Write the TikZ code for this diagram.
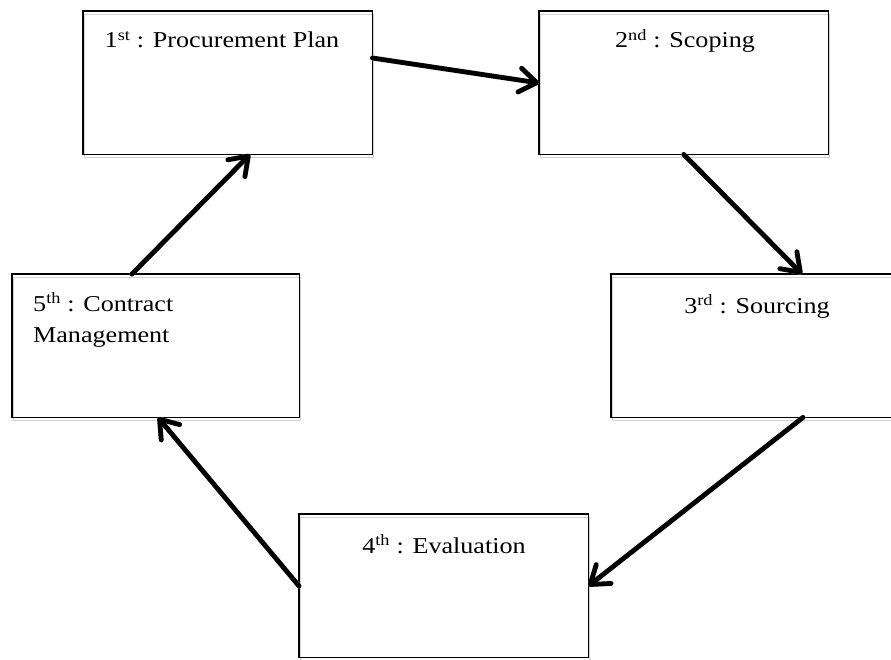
\documentclass[tikz,border=0pt]{standalone}
\usepackage{fontspec}
\setmainfont{Liberation Serif}[FakeStretch=1.15]
\usetikzlibrary{arrows.meta}
\tikzset{
  stagebox/.style={draw=none, fill=none, rectangle, inner sep=0pt,
    minimum width=289pt, minimum height=143pt, anchor=north west},
  boxshadow/.style={draw=black!18, line width=1.4pt, rectangle, inner sep=0pt,
    minimum width=289pt, minimum height=143pt, anchor=north west},
  boxline/.style={line width=1.2pt},
  stagetext/.style={anchor=base, inner sep=0pt, font=\fontsize{22.7}{31}\selectfont},
  flow/.style={line width=4.8pt, line cap=round, line join=round,
    -{Straight Barb[length=17pt,width=24pt,line cap=round,line join=round]}},
  flowshadow/.style={flow, draw=black!18}
}
\begin{document}
\begin{tikzpicture}[x=1pt,y=-1pt]
\useasboundingbox (0,0) rectangle (891,660);
% shadows of boxes
\node[boxshadow] (s1) at (84,14) {};
\node[boxshadow] (s2) at (540,14) {};
\node[boxshadow] (s3) at (612,277) {};
\node[boxshadow] (s4) at (300,517) {};
\node[boxshadow, minimum width=287pt] (s5) at (13,277) {};
% boxes
\node[stagebox] (b1) at (83,11) {};
\node[stagebox] (b2) at (539,11) {};
\node[stagebox] (b3) at (611,274) {};
\node[stagebox] (b4) at (299,514) {};
\node[stagebox, minimum width=287pt] (b5) at (12,274) {};
\draw[boxline] (b1.north west) rectangle (b1.south east);
\draw[boxline] (b2.north west) rectangle (b2.south east);
\draw[boxline] (b3.north west) rectangle (b3.south east);
\draw[boxline] (b4.north west) rectangle (b4.south east);
\draw[boxline] (b5.north west) rectangle (b5.south east);
% texts
\node[stagetext] (t1) at (222,48) {1\textsuperscript{st} : Procurement Plan};
\node[stagetext] (t2) at (685,48) {2\textsuperscript{nd} : Scoping};
\node[stagetext] (t3) at (757,313) {3\textsuperscript{rd} : Sourcing};
\node[stagetext] (t4) at (444,553) {4\textsuperscript{th} : Evaluation};
\node[stagetext, anchor=base west] (t5) at (33,311) {5\textsuperscript{th} : Contract};
\node[stagetext, anchor=base west] (t5b) at (33,342) {Management};
% arrow shadows
\begin{scope}[shift={(1,3)}]
\draw[flowshadow] ([yshift=-47pt]b1.north east) -- ([yshift=-72pt]b2.north west);
\draw[flowshadow] (b2.south) -- ([xshift=191pt]b3.north west);
\draw[flowshadow] ([xshift=192pt]b3.south west) -- ([yshift=-72pt]b4.north east);
\draw[flowshadow] ([yshift=-72pt]b4.north west) -- ([xshift=146pt]b5.south west);
\draw[flowshadow] ([xshift=120pt]b5.north west) -- ([xshift=167pt]b1.south west);
\end{scope}
% arrows
\draw[flow] ([yshift=-47pt]b1.north east) -- ([yshift=-72pt]b2.north west);
\draw[flow] (b2.south) -- ([xshift=191pt]b3.north west);
\draw[flow] ([xshift=192pt]b3.south west) -- ([yshift=-72pt]b4.north east);
\draw[flow] ([yshift=-72pt]b4.north west) -- ([xshift=146pt]b5.south west);
\draw[flow] ([xshift=120pt]b5.north west) -- ([xshift=167pt]b1.south west);
\end{tikzpicture}
\end{document}
